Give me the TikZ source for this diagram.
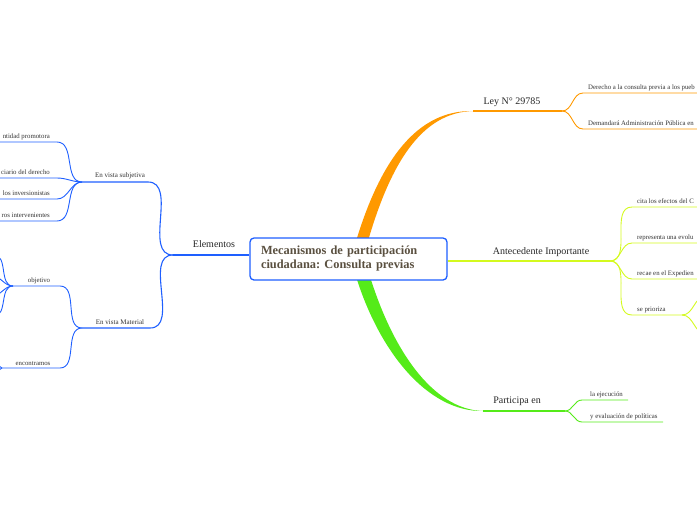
\documentclass[tikz,border=0pt]{standalone}
\usepackage{fontspec}
\setmainfont{Liberation Serif}
\frenchspacing
\usetikzlibrary{calc}
\definecolor{mmblue}{RGB}{30,95,255}
\definecolor{mmorange}{RGB}{255,153,0}
\definecolor{mmlime}{RGB}{212,250,30}
\definecolor{mmgreen}{RGB}{85,235,25}
\definecolor{mmtext}{RGB}{90,80,64}
\begin{document}
\begin{tikzpicture}[x=1pt,y=-1pt,
      rama/.style={font=\fontsize{10}{12}\selectfont, text=black!85, inner sep=0pt, anchor=base},
      hoja/.style={font=\fontsize{6.8}{8}\selectfont, text=black!80, inner sep=0pt},
      lin/.style={line width=1.4pt},
      sub/.style={line width=0.9pt}]
    \useasboundingbox (0,0) rectangle (697,520);
    \clip (0,0) rectangle (697,520);
    % --- rami grossi dietro al nodo centrale ---
    \coordinate (ley-a) at (473,111);
    \coordinate (par-a) at (483,411);
    \fill[mmorange] (354,248) .. controls (380,158) and (418,110) .. (ley-a)
      .. controls (422,112.5) and (390,162) .. (366,248) -- cycle;
    \fill[mmgreen] (354,270) .. controls (378,352) and (428,412) .. (par-a)
      .. controls (432,409.5) and (391,348) .. (368,270) -- cycle;
    % --- nodo centrale ---
    \node[draw=mmblue, line width=1.3pt, rounded corners=4pt, fill=white,
      minimum width=197pt, minimum height=42pt, text width=175pt, align=left,
      font=\fontsize{12.4}{14}\selectfont\bfseries, text=mmtext]
      (root) at (348.5,259) {Mecanismos de participación\\ciudadana: Consulta previas};
    % --- Ley N° 29785 ---
    \coordinate (ley-j) at (562,111);
    \draw[mmorange, lin] (ley-a) -- (ley-j);
    \node[rama] (ley) at (512,104) {Ley N° 29785};
    \foreach \n/\y/\t in {%
        1/93/{Derecho a la consulta previa a los pueb},
        2/129/{Demandará Administración Pública en}}{
      \coordinate (ley\n) at (583,\y);
      \coordinate (ley\n-x) at (705,\y);
      \node[hoja, anchor=base west] (tley\n) at (588,\y-4) {\t};
      \draw[mmorange, sub] (ley-j) to[out=0,in=180] (ley\n) -- (ley\n-x);
    }
    % --- Antecedente Importante ---
    \coordinate (ant-j) at (610,261);
    \draw[mmlime, lin] (root.east |- ant-j) -- (ant-j);
    \node[rama] (ant) at (541,254) {Antecedente Importante};
    \foreach \n/\y/\t/\e in {%
        1/207/{cita los efectos del C}/705, 2/243/{representa una evolu}/705,
        3/279/{recae en el Expedien}/705, 4/315/{se prioriza}/682}{
      \coordinate (ant\n) at (632,\y);
      \coordinate (ant\n-x) at (\e,\y);
      \node[hoja, anchor=base west] (tant\n) at (637,\y-4) {\t};
      \draw[mmlime, sub] (ant-j) to[out=0,in=180] (ant\n) -- (ant\n-x);
    }
    \coordinate (pri1) at (706,296);
    \coordinate (pri2) at (706,334);
    \draw[mmlime, sub] (ant4-x) to[out=0,in=180] (pri1);
    \draw[mmlime, sub] (ant4-x) to[out=0,in=180] (pri2);
    % --- Participa en ---
    \coordinate (par-j) at (565,411);
    \draw[mmgreen, lin] (par-a) -- (par-j);
    \node[rama] (par) at (517,403) {Participa en};
    \foreach \n/\y/\t/\e in {%
        1/400/{la ejecución}/628, 2/422/{y evaluación de políticas}/663}{
      \coordinate (par\n) at (582,\y);
      \coordinate (par\n-x) at (\e,\y);
      \node[hoja, anchor=base west] (tpar\n) at (590,\y-4) {\t};
      \draw[mmgreen, sub] (par-j) to[out=0,in=180] (par\n) -- (par\n-x);
    }
    % --- Elementos ---
    \coordinate (ele-j) at (173,255);
    \draw[mmblue, lin] (root.west |- ele-j) -- (ele-j);
    \node[rama] (ele) at (214,247) {Elementos};
    \coordinate (sub-e) at (148,182);
    \coordinate (sub-j) at (82,182);
    \coordinate (mat-e) at (150,328);
    \coordinate (mat-j) at (82,328);
    \draw[mmblue, line width=1.1pt] (ele-j) to[out=180,in=0] (sub-e) -- (sub-j);
    \draw[mmblue, line width=1.1pt] (ele-j) to[out=180,in=0] (mat-e) -- (mat-j);
    \node[hoja, font=\fontsize{7}{8}\selectfont, anchor=base] (sub) at (120,177.5) {En vista subjetiva};
    \node[hoja, font=\fontsize{7}{8}\selectfont, anchor=base] (mat) at (120,324.5) {En vista Material};
    \foreach \n/\y/\t in {%
        1/142/{ntidad promotora}, 2/178/{ciario del derecho},
        3/199/{los inversionistas}, 4/221/{ros intervenientes}}{
      \coordinate (sub\n) at (57,\y);
      \coordinate (sub\n-x) at (-5,\y);
      \node[hoja, anchor=base east] (tsub\n) at (50,\y-3.5) {\t};
      \draw[mmblue, sub] (sub-j) to[out=180,in=0] (sub\n) -- (sub\n-x);
    }
    % --- objetivo / encontramos ---
    \coordinate (obj-e) at (60,286);
    \coordinate (obj-j) at (13,286);
    \coordinate (enc-e) at (60,368);
    \coordinate (enc-j) at (2,368);
    \draw[mmblue, sub] (mat-j) to[out=180,in=0] (obj-e) -- (obj-j);
    \draw[mmblue, sub] (mat-j) to[out=180,in=0] (enc-e) -- (enc-j);
    \node[hoja, anchor=base] (obj) at (39,282.5) {objetivo};
    \node[hoja, anchor=base] (enc) at (33,365) {encontramos};
    \foreach \n/\x/\y in {1/-6/255, 2/-8/276, 3/-8/296, 4/-6/316}{
      \coordinate (obj\n) at (\x,\y);
      \draw[mmblue, sub] (obj-j) to[out=180,in=0] (obj\n);
    }
    \foreach \n/\y in {1/356, 2/380}{
      \coordinate (enc\n) at (-6,\y);
      \draw[mmblue, sub] (enc-j) to[out=180,in=0] (enc\n);
    }
  \end{tikzpicture}
\end{document}
